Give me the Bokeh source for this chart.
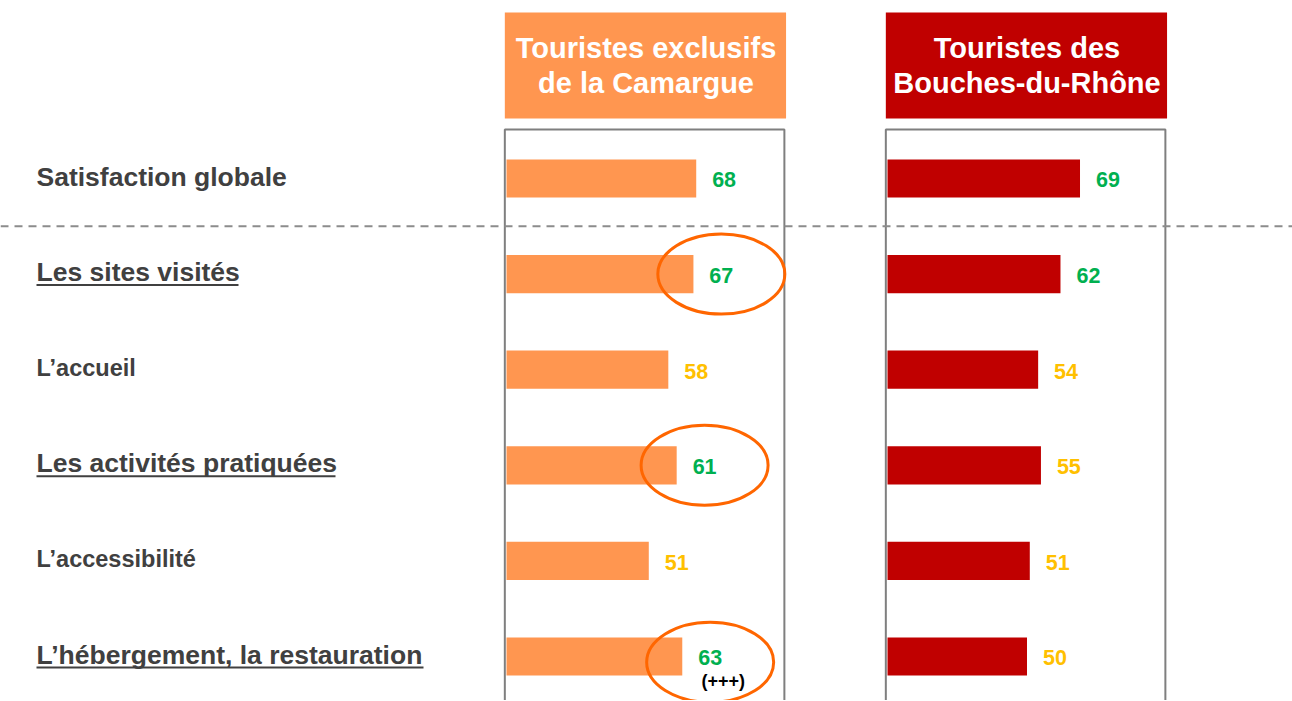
from bokeh.plotting import figure
from bokeh.models import Range1d, ColumnDataSource, Span
from bokeh.core.properties import value
from bokeh.embed import file_html
from bokeh.resources import INLINE

# ---------------- data ----------------
categories = [
    "Satisfaction globale",
    "Les sites visités",
    "L’accueil",
    "Les activités pratiquées",
    "L’accessibilité",
    "L’hébergement, la restauration",
]
camargue = [68, 67, 58, 61, 51, 63]
bouches_du_rhone = [69, 62, 54, 55, 51, 50]
panel_titles = ["Touristes exclusifs\nde la Camargue", "Touristes des\nBouches-du-Rhône"]
highlighted = ["Les sites visités", "Les activités pratiquées", "L’hébergement, la restauration"]
camargue_notes = ["", "", "", "", "", "(+++)"]

# ---------------- layout / style ----------------
ORIGIN = 0                             # page px where the figure starts
W, H = 1292, 700
ROW0, ROW_STEP = 178.0, 95.6          # page px of first row centre, row spacing
PX_PER_UNIT = 2.79
PANEL_ZERO = {"p1": 506.0, "p2": 887.0}
FONT = value("Liberation Sans")
LABEL_COLOR = "#404040"
GREEN, YELLOW = "#00B050", "#FFC000"
PANEL_COLORS = {"p1": "#FF9650", "p2": "#C00000"}
UNDERLINE_PX = {"Les sites visités": 202, "Les activités pratiquées": 299,
                "L’hébergement, la restauration": 387}

def row_of(page_y):
    return (page_y - ROW0) / ROW_STEP

p = figure(width=W, height=H, output_backend="svg", toolbar_location=None,
           x_axis_type=None, y_axis_type=None, min_border=0,
           x_range=Range1d(ORIGIN, ORIGIN + W),
           y_range=Range1d(start=row_of(ORIGIN + H), end=row_of(ORIGIN)))
p.outline_line_color = None
p.grid.visible = False
p.background_fill_color = "white"
p.border_fill_color = "white"
for name, zero in PANEL_ZERO.items():
    p.extra_x_ranges[name] = Range1d((ORIGIN - zero) / PX_PER_UNIT, (ORIGIN + W - zero) / PX_PER_UNIT)

rows = list(range(len(categories)))

# category labels
label_sizes = ["26.5px" if (c in highlighted or i == 0) else "23.5px" for i, c in enumerate(categories)]
p.text(x=[36] * len(rows), y=[r - 0.02 for r in rows], text=categories,
       text_font=FONT, text_font_style="bold", text_font_size=label_sizes,
       text_color=LABEL_COLOR, text_align="left", text_baseline="middle")
ul_rows = [categories.index(c) for c in highlighted]
p.segment(x0=[36] * len(ul_rows), x1=[36 + UNDERLINE_PX[categories[r]] for r in ul_rows],
          y0=[r + 0.115 for r in ul_rows], y1=[r + 0.115 for r in ul_rows],
          line_color=LABEL_COLOR, line_width=2)

# panels
for name, values, title in [("p1", camargue, panel_titles[0]), ("p2", bouches_du_rhone, panel_titles[1])]:
    color = PANEL_COLORS[name]
    # header
    p.quad(left=-0.6, right=100.2, top=row_of(12), bottom=row_of(118),
           fill_color=color, line_color=None, x_range_name=name)
    lines = title.split("\n")
    p.text(x=[50] * len(lines), y=[row_of(47), row_of(82)], text=lines,
           text_font=FONT, text_font_style="bold", text_font_size="29px",
           text_color="white", text_align="center", text_baseline="middle",
           x_range_name=name)
    # frame
    p.quad(left=-0.6, right=99.6, top=row_of(129), bottom=row_of(760),
           fill_color=None, line_color="#7F7F7F", line_width=2, x_range_name=name)
    # bars
    src = ColumnDataSource(dict(
        y=rows, v=values,
        lx=[v + 10 for v in values],
        ly=[r + 0.015 for r in rows],
        lt=[str(v) for v in values],
        lc=[GREEN if v >= 60 else YELLOW for v in values],
    ))
    p.hbar(y="y", left=0, right="v", height=0.4, source=src,
           fill_color=color, line_color=None, x_range_name=name)
    p.text(x="lx", y="ly", text="lt", text_color="lc", source=src,
           text_font=FONT, text_font_style="bold", text_font_size="21.5px",
           text_align="center", text_baseline="middle", x_range_name=name)

# highlights on Camargue panel
hl = [categories.index(c) for c in highlighted]
p.ellipse(x=[camargue[r] + 10 for r in hl],
          y=[r + (0.06 if camargue_notes[r] else 0.0) for r in hl],
          width=127, height=80, width_units="screen", height_units="screen",
          fill_color=None, line_color="#FF6600", line_width=3, x_range_name="p1")
note_rows = [r for r in rows if camargue_notes[r]]
p.text(x=[camargue[r] + 14.7 for r in note_rows], y=[r + 0.26 for r in note_rows],
       text=[camargue_notes[r] for r in note_rows],
       text_font=FONT, text_font_style="bold", text_font_size="18px",
       text_color="black", text_align="center", text_baseline="middle",
       x_range_name="p1")

# dashed separator between global satisfaction and the detailed items
p.add_layout(Span(location=0.5, dimension="width", line_color="#8C8C8C",
                  line_width=2, line_dash="8 6"))

open("out.html", "w").write(file_html(p, INLINE))
